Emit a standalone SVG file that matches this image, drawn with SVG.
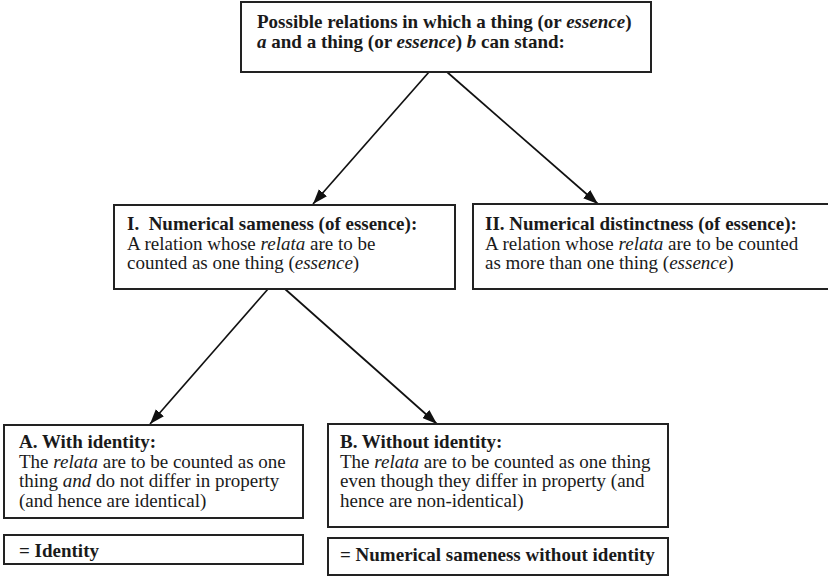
<svg xmlns="http://www.w3.org/2000/svg" width="828" height="576" viewBox="0 0 828 576">
<defs>
<style>
.box{fill:#fff;stroke:#222;stroke-width:2}
.t{font-family:'Liberation Serif','Times New Roman',Times,serif;font-size:19px;fill:#1a1a1a}
.b{font-weight:bold}
.i{font-style:italic}
.c{stroke:#111;stroke-width:1.7;fill:none}
</style>
<marker id="ah" viewBox="0 0 14 10" refX="14" refY="5" markerWidth="15" markerHeight="11" markerUnits="userSpaceOnUse" orient="auto">
<path d="M0,0 L14,5 L0,10 z" fill="#111"/>
</marker>
</defs>
<rect width="828" height="576" fill="#fff"/>
<g id="connectors">
<line class="c" x1="429" y1="72" x2="313" y2="204" marker-end="url(#ah)"/>
<line class="c" x1="447" y1="72" x2="598" y2="204" marker-end="url(#ah)"/>
<line class="c" x1="268" y1="289" x2="150" y2="424" marker-end="url(#ah)"/>
<line class="c" x1="285" y1="289" x2="437" y2="424" marker-end="url(#ah)"/>
</g>
<g id="root">
<rect class="box" x="241" y="2" width="410" height="70"/>
<text class="t b" x="257" y="28">Possible relations in which a thing (or <tspan class="i">essence</tspan>)</text>
<text class="t b" x="257" y="48"><tspan class="i">a</tspan> and a thing (or <tspan class="i">essence</tspan>) <tspan class="i">b</tspan> can stand:</text>
</g>
<g id="nodeI">
<rect class="box" x="114" y="205" width="341" height="84"/>
<text class="t b" x="127" y="230" xml:space="preserve">I.  Numerical sameness (of essence):</text>
<text class="t" x="127" y="249.5">A relation whose <tspan class="i">relata</tspan> are to be</text>
<text class="t" x="127" y="269">counted as one thing (<tspan class="i">essence</tspan>)</text>
</g>
<g id="nodeII">
<rect class="box" x="473" y="204" width="360" height="85"/>
<text class="t b" x="485" y="230">II. Numerical distinctness (of essence):</text>
<text class="t" x="485" y="249.5">A relation whose <tspan class="i">relata</tspan> are to be counted</text>
<text class="t" x="485" y="269">as more than one thing (<tspan class="i">essence</tspan>)</text>
</g>
<g id="nodeA">
<rect class="box" x="4" y="425" width="299" height="93"/>
<text class="t b" x="19" y="448">A. With identity:</text>
<text class="t" x="19" y="467.5">The <tspan class="i">relata</tspan> are to be counted as one</text>
<text class="t" x="19" y="487">thing <tspan class="i">and</tspan> do not differ in property</text>
<text class="t" x="19" y="506.5">(and hence are identical)</text>
</g>
<g id="resultA">
<rect class="box" x="4" y="535" width="299" height="29"/>
<text class="t b" x="19" y="557">= Identity</text>
</g>
<g id="nodeB">
<rect class="box" x="328" y="424" width="340" height="103"/>
<text class="t b" x="340" y="448">B. Without identity:</text>
<text class="t" x="340" y="467.5">The <tspan class="i">relata</tspan> are to be counted as one thing</text>
<text class="t" x="340" y="487">even though they differ in property (and</text>
<text class="t" x="340" y="506.5">hence are non-identical)</text>
</g>
<g id="resultB">
<rect class="box" x="328" y="538" width="340" height="37"/>
<text class="t b" x="340" y="561">= Numerical sameness without identity</text>
</g>
</svg>
